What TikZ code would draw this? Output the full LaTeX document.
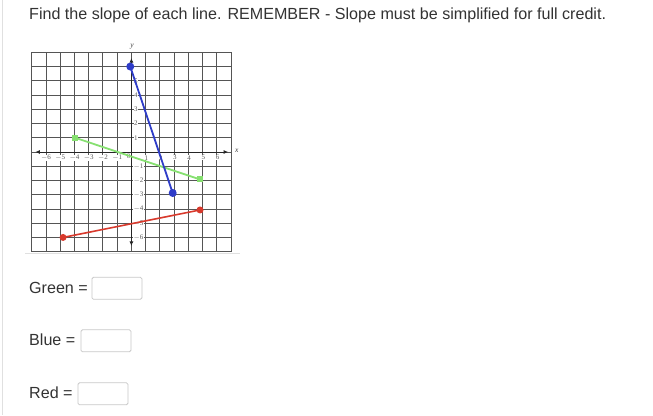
\documentclass[tikz,border=0pt]{standalone}
\usepackage{fontspec}
\setmainfont{Liberation Sans}
\newfontfamily\tickfont{Liberation Serif}
\usetikzlibrary{arrows.meta}
\definecolor{txt}{HTML}{333333}
\definecolor{gridc}{HTML}{555555}
\definecolor{boxc}{HTML}{C8C8C8}
\definecolor{blueline}{HTML}{2E3CC8}
\definecolor{greenline}{HTML}{86E070}
\definecolor{redline}{HTML}{D8392C}
\tikzset{
  body/.style={font=\fontsize{16.1}{19}\selectfont, text=txt, inner sep=0pt, anchor=west},
  answerbox/.style={draw=boxc, line width=0.8pt, rounded corners=1.5pt, minimum width=50pt, minimum height=22pt, inner sep=0pt, anchor=west},
  tick/.style={font=\tickfont\fontsize{7}{7}\selectfont, text=black!65, inner sep=0.4pt, fill=white},
  axislbl/.style={font=\tickfont\itshape\fontsize{7.5}{7.5}\selectfont, text=black!75, inner sep=0pt},
  gridline/.style={draw=gridc, line width=0.9pt},
  axisline/.style={draw=black!85, line width=0.9pt, {Latex[length=4.5pt,width=4pt]}-{Latex[length=4.5pt,width=4pt]}},
  dotpt/.style={circle, inner sep=0pt, minimum size=7pt},
  sqpt/.style={rectangle, inner sep=0pt, minimum size=6pt, fill=greenline}
}
\begin{document}
\begin{tikzpicture}[x=1pt,y=-1pt]
\useasboundingbox (0,0) rectangle (653,415);
\fill[white] (0,0) rectangle (653,415);
\draw[black!12, line width=0.6pt] (2.5,0) -- (2.5,415);
% title
\node[body] (title) at (29,15) {Find the slope of each line. REMEMBER - Slope must be simplified for full credit.};
% graph frame line
\draw[black!12, line width=0.8pt] (25,253.5) -- (240,253.5);
\begin{scope}[xshift=131.4pt, yshift=-152pt, x=14.24pt, y=14.24pt]
  \foreach \i in {-7,...,7} {
    \draw[gridline] (\i,-7) -- (\i,7);
    \draw[gridline] (-7,\i) -- (7,\i);
  }
  \foreach \i in {-6,...,-1} {
    \node[tick] at (\i,-0.4) {$-$\the\numexpr-\i\relax};
  }
  \node[tick] at (-0.2,-0.3) {0};
  \foreach \i in {1,...,6} {
    \node[tick] at (\i+0.05,-0.4) {\i};
  }
  \foreach \i in {1,...,5} {
    \node[tick, anchor=west] at (0.15,\i) {\i};
  }
  \foreach \i in {-1,...,-6} {
    \node[tick, anchor=west] at (0.12,\i) {$-$\the\numexpr-\i\relax};
  }
  \coordinate (xl) at (-6.75,0);
  \coordinate (xr) at (6.8,0);
  \coordinate (yb) at (0,-6.6);
  \coordinate (yt) at (0,6.6);
  \draw[axisline] (xl) -- (xr);
  \draw[axisline] (yb) -- (yt);
  \node[axislbl] (xlab) at (7.4,0.1) {x};
  \node[axislbl] (ylab) at (0.05,7.4) {y};
  % lines
  \coordinate (b1) at (-0.08,6);
  \coordinate (b2) at (2.9,-2.88);
  \coordinate (g1) at (-3.95,1);
  \coordinate (g2) at (4.8,-1.92);
  \coordinate (r1) at (-4.8,-6);
  \coordinate (r2) at (4.82,-4.07);
  \draw[greenline, line width=1.8pt] (g1) -- (g2);
  \draw[redline, line width=1.6pt] (r1) -- (r2);
  \draw[blueline, line width=1.8pt] (b1) -- (b2);
  \node[sqpt] (gp1) at (g1) {};
  \node[sqpt] (gp2) at (g2) {};
  \node[dotpt, fill=redline] (rp1) at (r1) {};
  \node[dotpt, fill=redline] (rp2) at (r2) {};
  \node[dotpt, fill=blueline, minimum size=8pt] (bp1) at (b1) {};
  \node[dotpt, fill=blueline, minimum size=8pt] (bp2) at (b2) {};
\end{scope}
% answers
\node[body] (green) at (29,288) {Green =};
\node[answerbox] (gbox) at (91.5,288.3) {};
\node[body] (blue) at (29,340) {Blue =};
\node[answerbox] (bbox) at (80.5,340.8) {};
\node[body] (red) at (29,393) {Red =};
\node[answerbox] (rbox) at (77.5,393.8) {};
\end{tikzpicture}
\end{document}
